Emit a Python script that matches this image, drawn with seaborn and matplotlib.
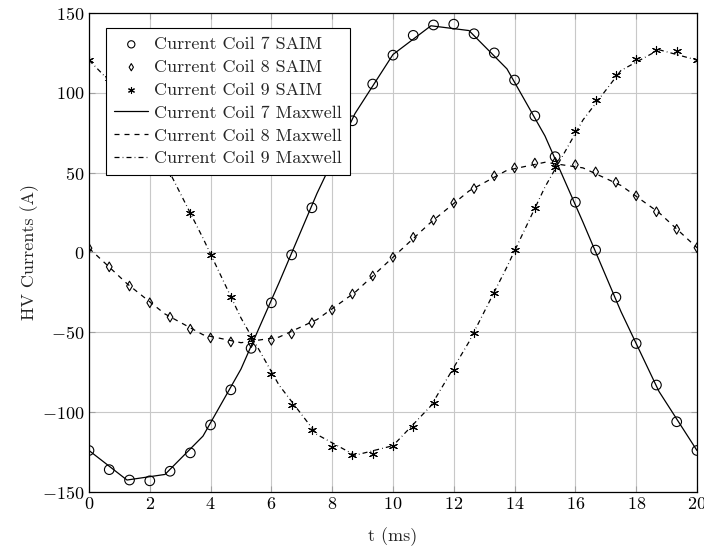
import matplotlib
matplotlib.use('Agg')
import matplotlib.pyplot as plt
import seaborn as sns
import numpy as np
import pandas as pd

# SAIM samples every 2/3 ms, Maxwell samples every 1.25 ms
t_saim = np.linspace(0, 20, 31)
t_maxwell = np.linspace(0, 20, 17)

coil7_saim = [-124, -136, -142.5, -143, -137, -125.5, -108, -86, -60, -31.5, -1.5,
              28, 57, 82.5, 105.5, 123.6, 136, 142.5, 143, 137, 125, 108, 85.5,
              60, 31.5, 1.5, -28, -57, -83, -106, -124]
coil8_saim = [2.7, -9, -21, -31.5, -40.5, -48, -53.5, -56, -56.5, -55, -51, -44,
              -36, -26, -14.7, -3, 9.5, 20.3, 31, 40, 48, 53, 56, 56.5, 55, 50.5,
              44, 35.5, 25.5, 14.5, 3]
coil9_saim = [120.5, 109, 94, 73.5, 50.5, 25, -1.6, -28, -53, -76, -95.5, -111,
              -122, -127, -126, -121, -109, -94, -73.5, -50.5, -25.5, 1.5, 28,
              53.5, 76, 95.5, 111, 121, 127, 126, 120.5]

coil7_maxwell = [-124, -142.5, -139, -115, -73, -19, 37, 87, 124, 142, 139, 115,
                 73, 19, -37, -87, -124]
coil8_maxwell = [2.7, -19.5, -38.5, -51.5, -56.5, -53, -42, -25, -3, 19, 38.5,
                 51.5, 56.5, 53, 42, 25, 3]
coil9_maxwell = [120.5, 96, 56, 9, -41, -83, -114, -127, -121, -96, -56, -9, 41,
                 83, 114, 127, 120.5]

saim = pd.DataFrame({'t': t_saim, 'c7': coil7_saim, 'c8': coil8_saim, 'c9': coil9_saim})
maxw = pd.DataFrame({'t': t_maxwell, 'c7': coil7_maxwell, 'c8': coil8_maxwell, 'c9': coil9_maxwell})

sns.set_theme(style='ticks')
plt.rcParams['font.family'] = ['cmr10', 'DejaVu Serif']
plt.rcParams['mathtext.fontset'] = 'cm'
plt.rcParams['axes.formatter.use_mathtext'] = True
plt.rcParams['axes.unicode_minus'] = True
fs = 13

fig = plt.figure(figsize=(7.04, 5.46), dpi=100)
ax = fig.add_axes([0.1264, 0.0989, 0.8636, 0.8773])

sns.scatterplot(data=saim, x='t', y='c7', ax=ax, marker='o', s=48, facecolor='none',
                edgecolor='black', linewidth=0.8, label='Current Coil 7 SAIM', zorder=3)
sns.scatterplot(data=saim, x='t', y='c8', ax=ax, marker='d', s=24, facecolor='none',
                edgecolor='black', linewidth=0.8, label='Current Coil 8 SAIM', zorder=3)
sns.scatterplot(data=saim, x='t', y='c9', ax=ax, marker=(6, 2, 0), s=34, color='black',
                linewidth=0.8, label='Current Coil 9 SAIM', zorder=3)

sns.lineplot(data=maxw, x='t', y='c7', ax=ax, color='black', lw=0.9,
             label='Current Coil 7 Maxwell')
sns.lineplot(data=maxw, x='t', y='c8', ax=ax, color='black', lw=0.9,
             dashes=False, label='Current Coil 8 Maxwell').lines[-1].set_dashes([4, 4])
sns.lineplot(data=maxw, x='t', y='c9', ax=ax, color='black', lw=0.9,
             label='Current Coil 9 Maxwell').lines[-1].set_dashes([4, 2.5, 0.6, 2.5])

ax.set_xlim(0, 20)
ax.set_ylim(-150, 150)
ax.set_xticks(range(0, 21, 2))
ax.set_yticks(range(-150, 151, 50))
ax.grid(True, color='#c8c8c8', lw=0.8)
ax.set_axisbelow(True)
for sp in ax.spines.values():
    sp.set_color('black')
    sp.set_linewidth(0.9)
ax.tick_params(direction='in', top=True, right=True, length=4, width=0.8,
               labelsize=fs, pad=3, colors='black')
ax.tick_params(color='#a0a0a0')
ax.set_xlabel('t (ms)', fontsize=fs, labelpad=11)
ax.set_ylabel('HV Currents (A)', fontsize=fs, labelpad=2.5)

leg = ax.legend(loc='upper left', bbox_to_anchor=(0.028, 0.968), fontsize=fs,
                frameon=True, fancybox=False, framealpha=1, edgecolor='black',
                handlelength=1.9, handletextpad=0.3, borderpad=0.45,
                labelspacing=0.4, borderaxespad=0, markerscale=0.75)
leg.get_frame().set_linewidth(0.8)

fig.savefig('out.png', dpi=100)
